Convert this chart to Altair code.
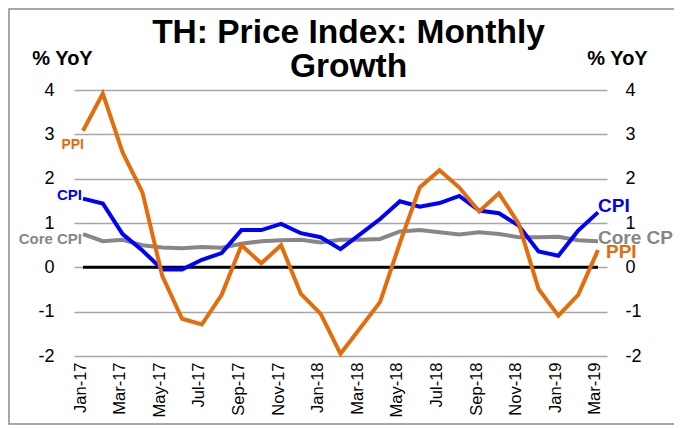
import altair as alt
import pandas as pd

months = ["Jan-17", "Feb-17", "Mar-17", "Apr-17", "May-17", "Jun-17", "Jul-17", "Aug-17",
          "Sep-17", "Oct-17", "Nov-17", "Dec-17", "Jan-18", "Feb-18", "Mar-18", "Apr-18",
          "May-18", "Jun-18", "Jul-18", "Aug-18", "Sep-18", "Oct-18", "Nov-18", "Dec-18",
          "Jan-19", "Feb-19", "Mar-19"]
ppi = [3.08, 3.92, 2.59, 1.69, -0.19, -1.16, -1.29, -0.62, 0.50, 0.09, 0.50, -0.60, -1.05,
       -1.95, -1.37, -0.78, 0.55, 1.80, 2.19, 1.80, 1.26, 1.67, 0.98, -0.49, -1.09, -0.62, 0.39]
cpi = [1.55, 1.44, 0.75, 0.38, -0.05, -0.05, 0.17, 0.32, 0.84, 0.84, 0.98, 0.77, 0.68,
       0.41, 0.75, 1.09, 1.49, 1.37, 1.45, 1.61, 1.28, 1.22, 0.94, 0.36, 0.26, 0.83, 1.24]
core_cpi = [0.75, 0.59, 0.62, 0.50, 0.45, 0.43, 0.46, 0.44, 0.53, 0.59, 0.61, 0.62, 0.56,
            0.62, 0.62, 0.64, 0.81, 0.84, 0.79, 0.74, 0.79, 0.75, 0.68, 0.68, 0.69, 0.61, 0.59]
axis_months = ["Jan-17", "Mar-17", "May-17", "Jul-17", "Sep-17", "Nov-17", "Jan-18",
               "Mar-18", "May-18", "Jul-18", "Sep-18", "Nov-18", "Jan-19", "Mar-19"]
y_ticks = [-2, -1, 0, 1, 2, 3, 4]

FONT = "Liberation Sans"
ORANGE = "#E46C0A"
BLUE = "#0000FF"
GRAY = "#878787"

df = pd.DataFrame({"month": months, "PPI": ppi, "CPI": cpi, "Core": core_cpi})

xscale = alt.Scale(type="point", domain=months, padding=0.455)
yscale = alt.Scale(domain=[-2, 4], nice=False, zero=False)

x_axis = alt.Axis(values=axis_months, labelAngle=270, labelAlign="right", labelBaseline="middle",
                  labelFontSize=16.5, labelFont=FONT, labelColor="black", labelPadding=6,
                  labelOffset=-3, ticks=False, domain=False, grid=False, title=None)

left_axis = alt.Axis(values=y_ticks, grid=True, gridColor="#A6A6A6", gridWidth=1.5,
                     ticks=False, domain=False, labelFontSize=18, labelFont=FONT,
                     labelColor="black", labelPadding=20, labelExpr="datum.value + ''",
                     title="% YoY", titleAngle=0,
                     titleX=-12, titleY=-26, titleAlign="center", titleBaseline="alphabetic",
                     titleFontSize=20, titleFont=FONT, titleFontWeight="bold", titleColor="black")
right_axis = alt.Axis(values=y_ticks, grid=False, ticks=False, domain=False, orient="right",
                      labelFontSize=18, labelFont=FONT, labelColor="black", labelPadding=18,
                      labelExpr="datum.value + ''",
                      title="% YoY", titleAngle=0, titleX=10, titleY=-26, titleAlign="center",
                      titleBaseline="alphabetic", titleFontSize=20, titleFont=FONT,
                      titleFontWeight="bold", titleColor="black")

border = alt.Chart(pd.DataFrame({"a": [0]})).mark_rect(
    fill="transparent", stroke="#8C8C8C", strokeWidth=1.5
).encode(x=alt.value(-65), x2=alt.value(700), y=alt.value(-81), y2=alt.value(334))

zero = alt.Chart(pd.DataFrame({"month": [months[0]], "end": [months[-1]], "v": [0]})).mark_rule(
    color="black", strokeWidth=3
).encode(
    x=alt.X("month:N", scale=xscale, axis=x_axis),
    x2="end",
    y=alt.Y("v:Q", scale=yscale, axis=None),
)


def line(field, color, yaxis):
    return alt.Chart(df).mark_line(color=color, strokeWidth=4).encode(
        x=alt.X("month:N", scale=xscale, sort=months, axis=x_axis),
        y=alt.Y(f"{field}:Q", scale=yscale, axis=yaxis),
    )


def label(idx, field, text, color, align, dx, dy, size):
    pos = idx if idx >= 0 else len(months) + idx
    d = pd.DataFrame({"month": [months[pos]], "v": [df[field][pos]], "t": [text]})
    return alt.Chart(d).mark_text(
        align=align, baseline="alphabetic", dx=dx, dy=dy, fontSize=size,
        fontWeight="bold", font=FONT, color=color
    ).encode(
        x=alt.X("month:N", scale=xscale, axis=x_axis),
        y=alt.Y("v:Q", scale=yscale, axis=None),
        text="t:N",
    )


core_line = line("Core", GRAY, left_axis)
cpi_line = line("CPI", BLUE, None)
ppi_line = line("PPI", ORANGE, right_axis)

labels = [
    label(0, "PPI", "PPI", ORANGE, "right", 1, 18, 14),
    label(0, "CPI", "CPI", BLUE, "right", -1, 1, 15),
    label(0, "Core", "Core CPI", GRAY, "right", -1, 10, 15),
    label(-1, "CPI", "CPI", BLUE, "left", 0, 0, 19),
    label(-1, "Core", "Core CPI", GRAY, "left", 0, 3, 19),
    label(-1, "PPI", "PPI", ORANGE, "left", 8, 8, 19),
]

chart = alt.layer(
    border, core_line, zero, cpi_line, ppi_line, *labels
).resolve_scale(y="independent").properties(
    width=533, height=266,
    autosize=alt.AutoSizeParams(type="none"),
    padding={"left": 66, "top": 82, "right": 67, "bottom": 72},
    background="white",
    title=alt.TitleParams(
        text=["TH: Price Index: Monthly", "Growth"], fontSize=33.5, font=FONT,
        fontWeight="bold", lineHeight=34, anchor="middle", dx=8, offset=0, dy=76,
        color="black"
    ),
).configure_view(strokeWidth=0)

chart.save("out.html", embed_options={"renderer": "svg", "actions": False})
